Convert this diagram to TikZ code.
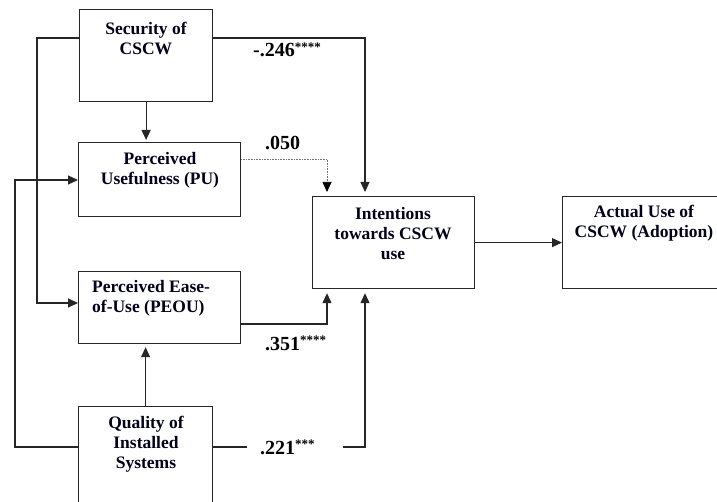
\documentclass[tikz,border=0pt]{standalone}
\usepackage{fontspec}
\setmainfont{Liberation Serif}
\usetikzlibrary{arrows.meta,calc}
\begin{document}
\begin{tikzpicture}[x=1pt,y=-1pt,
  box/.style={draw=black!85,line width=1.2pt,rectangle,inner sep=0pt,anchor=north west},
  txt/.style={font=\bfseries\fontsize{17.5}{20}\selectfont,align=center,inner sep=0pt,text=black!90!blue},
  lbl/.style={font=\bfseries\fontsize{20}{24}\selectfont,inner sep=0pt,anchor=base west},
  arr/.style={draw=black!85,line width=1.2pt,-{Triangle[length=10pt,width=9pt]}},
  ln/.style={draw=black!85,line width=1.2pt},
  dotarr/.style={draw=black!55,line width=0.7pt,dash pattern=on 0.8pt off 0.8pt,-{Triangle[length=10pt,width=9pt,color=black]}}]
\useasboundingbox (0,0) rectangle (717,502);
\clip (0,0) rectangle (717,502);
% boxes
\node[box,minimum width=133pt,minimum height=92pt] (sec) at (79,9) {};
\node[box,minimum width=162pt,minimum height=74pt] (pu) at (78,142) {};
\node[box,minimum width=162pt,minimum height=72pt] (peou) at (78,271) {};
\node[box,minimum width=134pt,minimum height=110pt] (qual) at (78,406) {};
\node[box,minimum width=162pt,minimum height=92pt] (int) at (312,196) {};
\node[box,minimum width=170pt,minimum height=92pt] (act) at (562,196) {};
% texts
\node[txt] (tsec) at (146,38) {Security of\\CSCW};
\node[txt] (tpu) at (160,170) {Perceived\\Usefulness (PU)};
\node[txt,align=left,anchor=west] (tpeou) at (92,298) {Perceived Ease-\\of-Use (PEOU)};
\node[txt] (tqual) at (146,444.5) {Quality of\\Installed\\Systems};
\node[txt] (tint) at (393,234) {Intentions\\towards CSCW\\use};
\node[txt] (tact) at (644,223) {Actual Use of\\CSCW (Adoption)};
% labels
\node[lbl] (l246) at (253,57) {-.246\raisebox{5.5pt}{\fontsize{13}{13}\selectfont ****}};
\node[lbl] (l050) at (265,150) {.050};
\node[lbl] (l351) at (265,350) {.351\raisebox{5.5pt}{\fontsize{13}{13}\selectfont ****}};
\node[lbl] (l221) at (260,454) {.221\raisebox{5.5pt}{\fontsize{13}{13}\selectfont ***}};
\coordinate (g1) at (247,447);
\coordinate (g2) at (343,447);
% connectors
\draw[arr] ($(sec.north west)+(0,29)$) -- ++(-42,0) |- ($(peou.north west)+(0,32)$);
\draw[arr] ($(sec.north east)+(0,29)$) -| ($(int.north west)+(53,-4)$);
\draw[arr] (sec.south) -- ($(sec.south |- pu.north)+(0,-2)$);
\draw[dotarr] ($(pu.north east)+(0,17)$) -| ($(int.north west)+(15,-4)$);
\draw[arr] ($(peou.north east)+(0,53)$) -| ($(int.south west)+(15,4)$);
\draw[arr] (qual.north) -- ($(qual.north |- peou.south)+(0,3)$);
\draw[arr] ($(qual.north west)+(0,41)$) -- ++(-63,0) |- ($(pu.north west)+(0,38)$);
\draw[ln] ($(qual.north east)+(0,41)$) -- (g1);
\draw[arr] (g2) -| ($(int.south west)+(53,4)$);
\draw[arr] (int.east) -- (int.east -| act.west);
\end{tikzpicture}
\end{document}
